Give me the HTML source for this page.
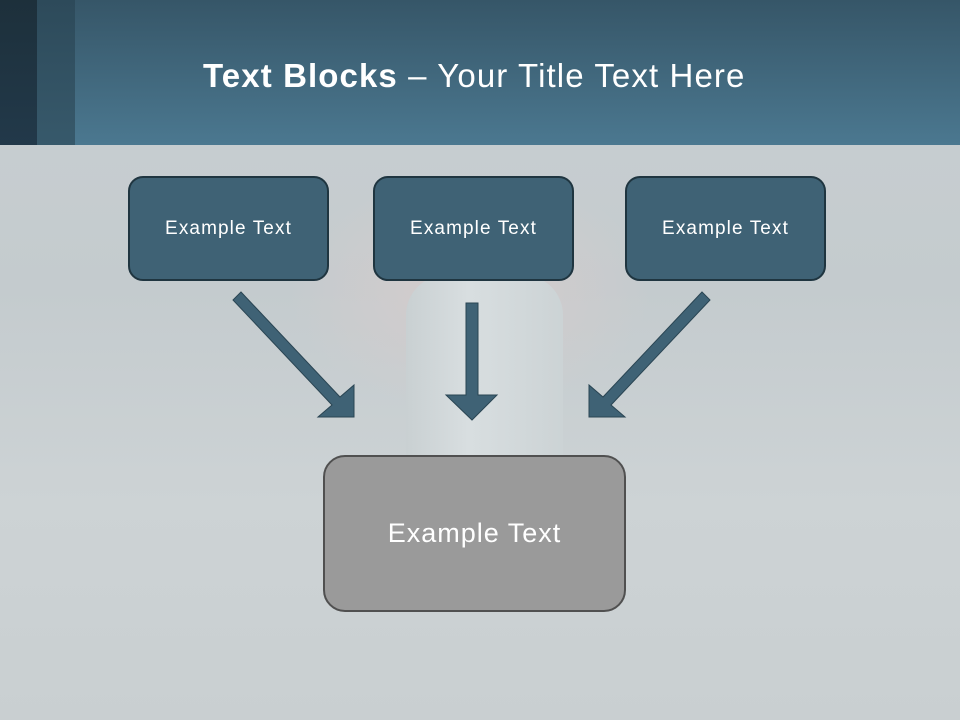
<!DOCTYPE html>
<html><head><meta charset="utf-8"><style>
html,body{margin:0;padding:0}
body{width:960px;height:720px;position:relative;overflow:hidden;font-family:"Liberation Sans",sans-serif;
background:radial-gradient(ellipse 180px 120px at 470px 290px,#d6cccc 0%,rgba(214,204,204,0) 100%),
linear-gradient(#c9cfd2 0%,#c4cbce 40%,#cdd3d5 70%,#c9cfd1 100%);}
.hdr{position:absolute;left:0;top:0;width:960px;height:145px;background:linear-gradient(#365668,#4b7890);}
.s1{position:absolute;left:0;top:0;width:37px;height:145px;background:linear-gradient(#1d303b,#22394a);}
.s2{position:absolute;left:37px;top:0;width:38px;height:145px;background:linear-gradient(#2d4a5a,#37596b);}
.title{position:absolute;left:203px;top:54px;font-size:33px;letter-spacing:1.1px;color:#fff;white-space:nowrap;line-height:44px}
.box{position:absolute;box-sizing:border-box;background:#3f6275;border:2px solid #1f3540;border-radius:15px;color:#fff;font-size:19px;letter-spacing:1.1px;display:flex;align-items:center;justify-content:center}
.big{position:absolute;left:323px;top:455px;width:303px;height:157px;box-sizing:border-box;background:#9a9a9a;border:2px solid #505050;border-radius:22px;color:#fff;font-size:27px;letter-spacing:1px;display:flex;align-items:center;justify-content:center}
.tire{position:absolute;left:406px;top:275px;width:157px;height:185px;background:linear-gradient(90deg,#c9d0d2,#d8dee0 40%,#ccd3d5);border-radius:40px 40px 0 0}
</style></head><body>
<div class="tire"></div>
<div class="hdr"></div><div class="s1"></div><div class="s2"></div>
<div class="title"><b>Text Blocks</b> – Your Title Text Here</div>
<div class="box" style="left:128px;top:176px;width:201px;height:105px">Example Text</div>
<div class="box" style="left:373px;top:176px;width:201px;height:105px">Example Text</div>
<div class="box" style="left:625px;top:176px;width:201px;height:105px">Example Text</div>
<svg style="position:absolute;left:0;top:0" width="960" height="720">
<g fill="#3f6275" stroke="#2a4553" stroke-width="1">
<polygon points="241,292 340,397 354,385 354,417 318,417 332,405 233,300"/>
<polygon points="702,292 603,397 589,385 589,417 625,417 611,405 710,300"/>
<polygon points="466,303 478,303 478,395 497,395 472,420 446,395 466,395"/>
</g></svg>
<div class="big">Example Text</div>
</body></html>
